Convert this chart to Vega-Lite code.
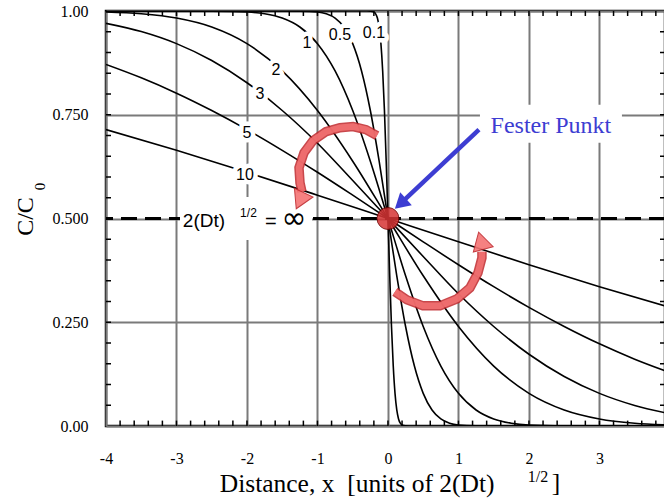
{
  "$schema": "https://vega.github.io/schema/vega-lite/v6.json",
  "description": "Error-function concentration profiles C/C0 = 0.5 erfc(x / 2(Dt)^1/2) for several diffusion lengths, all crossing the fixed point at x = 0, C/C0 = 0.5.",
  "width": 559,
  "height": 415,
  "autosize": {"type": "none"},
  "padding": {"left": 106, "top": 11, "right": 0, "bottom": 78},
  "background": "white",
  "config": {
    "view": {"stroke": "black", "strokeWidth": 2.5},
    "font": "Liberation Serif"
  },
  "datasets": {
    "curves": [
      {"s": "10", "x": -4, "c": 0.7142}, {"s": "10", "x": -3, "c": 0.6643}, {"s": "10", "x": -2, "c": 0.6114},
      {"s": "10", "x": -1, "c": 0.5562}, {"s": "10", "x": 0, "c": 0.5}, {"s": "10", "x": 1, "c": 0.4438},
      {"s": "10", "x": 2, "c": 0.3886}, {"s": "10", "x": 3, "c": 0.3357}, {"s": "10", "x": 3.93, "c": 0.2892},

      {"s": "5", "x": -4, "c": 0.8711}, {"s": "5", "x": -3.5, "c": 0.8389}, {"s": "5", "x": -3, "c": 0.802},
      {"s": "5", "x": -2.5, "c": 0.7602}, {"s": "5", "x": -2, "c": 0.7142}, {"s": "5", "x": -1.5, "c": 0.6643},
      {"s": "5", "x": -1, "c": 0.6114}, {"s": "5", "x": -0.5, "c": 0.5562}, {"s": "5", "x": 0, "c": 0.5},
      {"s": "5", "x": 0.5, "c": 0.4438}, {"s": "5", "x": 1, "c": 0.3886}, {"s": "5", "x": 1.5, "c": 0.3357},
      {"s": "5", "x": 2, "c": 0.2858}, {"s": "5", "x": 2.5, "c": 0.2398}, {"s": "5", "x": 3, "c": 0.198},
      {"s": "5", "x": 3.5, "c": 0.1611}, {"s": "5", "x": 3.93, "c": 0.1332},

      {"s": "3", "x": -4, "c": 0.9703}, {"s": "3", "x": -3.5, "c": 0.9505}, {"s": "3", "x": -3, "c": 0.9214},
      {"s": "3", "x": -2.5, "c": 0.8807}, {"s": "3", "x": -2, "c": 0.8271}, {"s": "3", "x": -1.5, "c": 0.7602},
      {"s": "3", "x": -1, "c": 0.6814}, {"s": "3", "x": -0.5, "c": 0.5915}, {"s": "3", "x": 0, "c": 0.5},
      {"s": "3", "x": 0.5, "c": 0.4085}, {"s": "3", "x": 1, "c": 0.3186}, {"s": "3", "x": 1.5, "c": 0.2398},
      {"s": "3", "x": 2, "c": 0.1729}, {"s": "3", "x": 2.5, "c": 0.1193}, {"s": "3", "x": 3, "c": 0.0786},
      {"s": "3", "x": 3.5, "c": 0.0495}, {"s": "3", "x": 3.93, "c": 0.032},

      {"s": "2", "x": -4, "c": 0.9977}, {"s": "2", "x": -3.5, "c": 0.9933}, {"s": "2", "x": -3, "c": 0.983},
      {"s": "2", "x": -2.5, "c": 0.9614}, {"s": "2", "x": -2, "c": 0.9213}, {"s": "2", "x": -1.5, "c": 0.8556},
      {"s": "2", "x": -1, "c": 0.7602}, {"s": "2", "x": -0.5, "c": 0.6381}, {"s": "2", "x": 0, "c": 0.5},
      {"s": "2", "x": 0.5, "c": 0.3619}, {"s": "2", "x": 1, "c": 0.2398}, {"s": "2", "x": 1.5, "c": 0.1444},
      {"s": "2", "x": 2, "c": 0.0787}, {"s": "2", "x": 2.5, "c": 0.0386}, {"s": "2", "x": 3, "c": 0.017},
      {"s": "2", "x": 3.5, "c": 0.0067}, {"s": "2", "x": 3.93, "c": 0.0027},

      {"s": "1", "x": -4, "c": 1}, {"s": "1", "x": -3, "c": 1}, {"s": "1", "x": -2.5, "c": 0.9998},
      {"s": "1", "x": -2, "c": 0.9977}, {"s": "1", "x": -1.75, "c": 0.9933}, {"s": "1", "x": -1.5, "c": 0.983},
      {"s": "1", "x": -1.25, "c": 0.9614}, {"s": "1", "x": -1, "c": 0.9213}, {"s": "1", "x": -0.75, "c": 0.8556},
      {"s": "1", "x": -0.5, "c": 0.7602}, {"s": "1", "x": -0.25, "c": 0.6381}, {"s": "1", "x": 0, "c": 0.5},
      {"s": "1", "x": 0.25, "c": 0.3619}, {"s": "1", "x": 0.5, "c": 0.2398}, {"s": "1", "x": 0.75, "c": 0.1444},
      {"s": "1", "x": 1, "c": 0.0787}, {"s": "1", "x": 1.25, "c": 0.0386}, {"s": "1", "x": 1.5, "c": 0.017},
      {"s": "1", "x": 1.75, "c": 0.0067}, {"s": "1", "x": 2, "c": 0.0023}, {"s": "1", "x": 2.5, "c": 0.0002},
      {"s": "1", "x": 3, "c": 0}, {"s": "1", "x": 3.93, "c": 0},

      {"s": "0.5", "x": -4, "c": 1}, {"s": "0.5", "x": -1.5, "c": 1}, {"s": "0.5", "x": -1.25, "c": 0.9998},
      {"s": "0.5", "x": -1, "c": 0.9977}, {"s": "0.5", "x": -0.875, "c": 0.9933}, {"s": "0.5", "x": -0.75, "c": 0.983},
      {"s": "0.5", "x": -0.625, "c": 0.9614}, {"s": "0.5", "x": -0.5, "c": 0.9213}, {"s": "0.5", "x": -0.375, "c": 0.8556},
      {"s": "0.5", "x": -0.25, "c": 0.7602}, {"s": "0.5", "x": -0.125, "c": 0.6381}, {"s": "0.5", "x": 0, "c": 0.5},
      {"s": "0.5", "x": 0.125, "c": 0.3619}, {"s": "0.5", "x": 0.25, "c": 0.2398}, {"s": "0.5", "x": 0.375, "c": 0.1444},
      {"s": "0.5", "x": 0.5, "c": 0.0787}, {"s": "0.5", "x": 0.625, "c": 0.0386}, {"s": "0.5", "x": 0.75, "c": 0.017},
      {"s": "0.5", "x": 0.875, "c": 0.0067}, {"s": "0.5", "x": 1, "c": 0.0023}, {"s": "0.5", "x": 1.25, "c": 0.0002},
      {"s": "0.5", "x": 1.5, "c": 0}, {"s": "0.5", "x": 3.93, "c": 0},

      {"s": "0.1", "x": -4, "c": 1}, {"s": "0.1", "x": -0.3, "c": 1}, {"s": "0.1", "x": -0.25, "c": 0.9998},
      {"s": "0.1", "x": -0.2, "c": 0.9977}, {"s": "0.1", "x": -0.175, "c": 0.9933}, {"s": "0.1", "x": -0.15, "c": 0.983},
      {"s": "0.1", "x": -0.125, "c": 0.9614}, {"s": "0.1", "x": -0.1, "c": 0.9213}, {"s": "0.1", "x": -0.075, "c": 0.8556},
      {"s": "0.1", "x": -0.05, "c": 0.7602}, {"s": "0.1", "x": -0.025, "c": 0.6381}, {"s": "0.1", "x": 0, "c": 0.5},
      {"s": "0.1", "x": 0.025, "c": 0.3619}, {"s": "0.1", "x": 0.05, "c": 0.2398}, {"s": "0.1", "x": 0.075, "c": 0.1444},
      {"s": "0.1", "x": 0.1, "c": 0.0787}, {"s": "0.1", "x": 0.125, "c": 0.0386}, {"s": "0.1", "x": 0.15, "c": 0.017},
      {"s": "0.1", "x": 0.175, "c": 0.0067}, {"s": "0.1", "x": 0.2, "c": 0.0023}, {"s": "0.1", "x": 0.25, "c": 0.0002},
      {"s": "0.1", "x": 0.3, "c": 0}, {"s": "0.1", "x": 3.93, "c": 0}
    ],
    "xMinor": [
      {"v": -3.8}, {"v": -3.6}, {"v": -3.4}, {"v": -3.2}, {"v": -3}, {"v": -2.8}, {"v": -2.6}, {"v": -2.4},
      {"v": -2.2}, {"v": -2}, {"v": -1.8}, {"v": -1.6}, {"v": -1.4}, {"v": -1.2}, {"v": -1}, {"v": -0.8},
      {"v": -0.6}, {"v": -0.4}, {"v": -0.2}, {"v": 0}, {"v": 0.2}, {"v": 0.4}, {"v": 0.6}, {"v": 0.8},
      {"v": 1}, {"v": 1.2}, {"v": 1.4}, {"v": 1.6}, {"v": 1.8}, {"v": 2}, {"v": 2.2}, {"v": 2.4},
      {"v": 2.6}, {"v": 2.8}, {"v": 3}, {"v": 3.2}, {"v": 3.4}, {"v": 3.6}, {"v": 3.8}
    ],
    "yMinor": [
      {"v": 0.05}, {"v": 0.1}, {"v": 0.15}, {"v": 0.2}, {"v": 0.25}, {"v": 0.3}, {"v": 0.35}, {"v": 0.4},
      {"v": 0.45}, {"v": 0.5}, {"v": 0.55}, {"v": 0.6}, {"v": 0.65}, {"v": 0.7}, {"v": 0.75}, {"v": 0.8},
      {"v": 0.85}, {"v": 0.9}, {"v": 0.95}
    ],
    "curveLabels": [
      {"t": "1", "x": -1.149, "y": 0.924},
      {"t": "0.5", "x": -0.681, "y": 0.943},
      {"t": "0.1", "x": -0.199, "y": 0.948},
      {"t": "2", "x": -1.589, "y": 0.859},
      {"t": "3", "x": -1.816, "y": 0.799},
      {"t": "5", "x": -2.0, "y": 0.707},
      {"t": "10", "x": -2.028, "y": 0.606}
    ],
    "arcs": [
      {"a": "upper", "i": 0, "x": -0.156, "y": 0.6996},
      {"a": "upper", "i": 1, "x": -0.312, "y": 0.7141},
      {"a": "upper", "i": 2, "x": -0.496, "y": 0.7214},
      {"a": "upper", "i": 3, "x": -0.681, "y": 0.7189},
      {"a": "upper", "i": 4, "x": -0.879, "y": 0.7093},
      {"a": "upper", "i": 5, "x": -1.064, "y": 0.6876},
      {"a": "upper", "i": 6, "x": -1.191, "y": 0.6586},
      {"a": "upper", "i": 7, "x": -1.262, "y": 0.6224},
      {"a": "upper", "i": 8, "x": -1.248, "y": 0.5862},
      {"a": "upper", "i": 9, "x": -1.22, "y": 0.5645},
      {"a": "lower", "i": 0, "x": 0.099, "y": 0.3233},
      {"a": "lower", "i": 1, "x": 0.27, "y": 0.304},
      {"a": "lower", "i": 2, "x": 0.496, "y": 0.2895},
      {"a": "lower", "i": 3, "x": 0.738, "y": 0.2895},
      {"a": "lower", "i": 4, "x": 0.979, "y": 0.3064},
      {"a": "lower", "i": 5, "x": 1.163, "y": 0.3329},
      {"a": "lower", "i": 6, "x": 1.277, "y": 0.3691},
      {"a": "lower", "i": 7, "x": 1.333, "y": 0.4053},
      {"a": "lower", "i": 8, "x": 1.333, "y": 0.42}
    ],
    "pointer": [
      {"x": 1.291, "y": 0.714},
      {"x": 0.177, "y": 0.5356}
    ]
  },
  "layer": [
    {
      "data": {"name": "curves"},
      "mark": {"type": "line", "interpolate": "monotone", "color": "black", "strokeWidth": 1.6, "clip": true},
      "encoding": {
        "x": {
          "field": "x", "type": "quantitative",
          "scale": {"domain": [-4, 3.93], "nice": false, "zero": false},
          "axis": {
            "orient": "bottom",
            "values": [-4, -3, -2, -1, 0, 1, 2, 3],
            "labelExpr": "'' + datum.value",
            "labelFont": "Liberation Serif", "labelFontSize": 16, "labelColor": "black",
            "labelPadding": 24, "labelFlush": false, "labelOverlap": false,
            "domain": false, "ticks": false, "tickSize": 0,
            "grid": true, "gridColor": "#7a7a7a", "gridWidth": 2,
            "title": "Distance, x\u00a0\u00a0[units of 2(Dt)",
            "titleFont": "Liberation Serif", "titleFontSize": 25.5, "titleFontWeight": "normal", "titleColor": "black",
            "titleAlign": "right", "titleBaseline": "alphabetic", "titleX": 388, "titleY": 65
          }
        },
        "y": {
          "field": "c", "type": "quantitative",
          "scale": {"domain": [0, 1], "nice": false, "zero": false},
          "axis": {
            "orient": "left",
            "values": [0, 0.25, 0.5, 0.75, 1],
            "labelExpr": "datum.value == 1 ? '1.00' : datum.value == 0 ? '0.00' : format(datum.value, '.3f')",
            "labelFont": "Liberation Serif", "labelFontSize": 16, "labelColor": "black",
            "labelPadding": 18, "labelFlush": false, "labelOverlap": false, "labelBaseline": "middle",
            "domain": false, "ticks": false, "tickSize": 0,
            "grid": true, "gridColor": "#7a7a7a", "gridWidth": 2,
            "title": "C/C",
            "titleFont": "Liberation Serif", "titleFontSize": 24, "titleFontWeight": "normal", "titleColor": "black",
            "titleAngle": 270, "titleAlign": "center", "titleBaseline": "middle", "titleX": -81, "titleY": 205
          }
        },
        "detail": {"field": "s"}
      }
    },
    {
      "data": {"name": "xMinor"},
      "mark": {"type": "rule", "color": "black", "strokeWidth": 1.5},
      "encoding": {
        "x": {"field": "v", "type": "quantitative", "scale": {"domain": [-4, 3.93], "nice": false}},
        "y": {"datum": 0, "type": "quantitative", "scale": {"domain": [0, 1], "nice": false}},
        "y2": {"datum": 0.013}
      }
    },
    {
      "data": {"name": "xMinor"},
      "mark": {"type": "rule", "color": "black", "strokeWidth": 1.5},
      "encoding": {
        "x": {"field": "v", "type": "quantitative", "scale": {"domain": [-4, 3.93], "nice": false}},
        "y": {"datum": 1, "type": "quantitative", "scale": {"domain": [0, 1], "nice": false}},
        "y2": {"datum": 0.988}
      }
    },
    {
      "data": {"name": "yMinor"},
      "mark": {"type": "rule", "color": "black", "strokeWidth": 1.5},
      "encoding": {
        "y": {"field": "v", "type": "quantitative", "scale": {"domain": [0, 1], "nice": false}},
        "x": {"datum": -4, "type": "quantitative", "scale": {"domain": [-4, 3.93], "nice": false}},
        "x2": {"datum": -3.929}
      }
    },
    {
      "data": {"name": "yMinor"},
      "mark": {"type": "rule", "color": "black", "strokeWidth": 1.5},
      "encoding": {
        "y": {"field": "v", "type": "quantitative", "scale": {"domain": [0, 1], "nice": false}},
        "x": {"datum": 3.93, "type": "quantitative", "scale": {"domain": [-4, 3.93], "nice": false}},
        "x2": {"datum": 3.859}
      }
    },
    {
      "data": {"values": [{"level": 0.5}]},
      "mark": {"type": "rule", "color": "black", "strokeWidth": 3, "strokeDash": [16, 8]},
      "encoding": {
        "y": {"field": "level", "type": "quantitative", "scale": {"domain": [0, 1], "nice": false}}
      }
    },
    {
      "data": {"values": [{"x": -2.014, "y": 0.5}]},
      "mark": {"type": "rect", "fill": "white", "width": 132, "height": 43},
      "encoding": {
        "x": {"field": "x", "type": "quantitative", "scale": {"domain": [-4, 3.93], "nice": false}},
        "y": {"field": "y", "type": "quantitative", "scale": {"domain": [0, 1], "nice": false}}
      }
    },
    {
      "data": {"values": [{"x": 2.312, "y": 0.7286}]},
      "mark": {"type": "rect", "fill": "white", "width": 142, "height": 38},
      "encoding": {
        "x": {"field": "x", "type": "quantitative", "scale": {"domain": [-4, 3.93], "nice": false}},
        "y": {"field": "y", "type": "quantitative", "scale": {"domain": [0, 1], "nice": false}}
      }
    },
    {
      "data": {"name": "curveLabels"},
      "mark": {"type": "text", "font": "Liberation Sans", "fontSize": 16, "fill": "white", "stroke": "white", "strokeWidth": 9, "strokeJoin": "round", "align": "center", "baseline": "middle"},
      "encoding": {
        "x": {"field": "x", "type": "quantitative", "scale": {"domain": [-4, 3.93], "nice": false}},
        "y": {"field": "y", "type": "quantitative", "scale": {"domain": [0, 1], "nice": false}},
        "text": {"field": "t"}
      }
    },
    {
      "data": {"name": "curveLabels"},
      "mark": {"type": "text", "font": "Liberation Sans", "fontSize": 16, "color": "black", "align": "center", "baseline": "middle"},
      "encoding": {
        "x": {"field": "x", "type": "quantitative", "scale": {"domain": [-4, 3.93], "nice": false}},
        "y": {"field": "y", "type": "quantitative", "scale": {"domain": [0, 1], "nice": false}},
        "text": {"field": "t"}
      }
    },
    {
      "data": {"values": [{"t": "2(Dt)", "x": -2.61, "y": 0.5}]},
      "mark": {"type": "text", "font": "Liberation Sans", "fontSize": 19, "color": "black", "align": "center", "baseline": "middle", "dy": 2},
      "encoding": {
        "x": {"field": "x", "type": "quantitative", "scale": {"domain": [-4, 3.93], "nice": false}},
        "y": {"field": "y", "type": "quantitative", "scale": {"domain": [0, 1], "nice": false}},
        "text": {"field": "t"}
      }
    },
    {
      "data": {"values": [{"t": "1/2", "x": -1.979, "y": 0.5}]},
      "mark": {"type": "text", "font": "Liberation Sans", "fontSize": 12, "color": "black", "align": "center", "baseline": "middle", "dy": -6},
      "encoding": {
        "x": {"field": "x", "type": "quantitative", "scale": {"domain": [-4, 3.93], "nice": false}},
        "y": {"field": "y", "type": "quantitative", "scale": {"domain": [0, 1], "nice": false}},
        "text": {"field": "t"}
      }
    },
    {
      "data": {"values": [{"t": "=", "x": -1.66, "y": 0.5}]},
      "mark": {"type": "text", "font": "Liberation Sans", "fontSize": 20, "color": "black", "align": "center", "baseline": "middle", "dy": 3},
      "encoding": {
        "x": {"field": "x", "type": "quantitative", "scale": {"domain": [-4, 3.93], "nice": false}},
        "y": {"field": "y", "type": "quantitative", "scale": {"domain": [0, 1], "nice": false}},
        "text": {"field": "t"}
      }
    },
    {
      "data": {"values": [{"t": "∞", "x": -1.333, "y": 0.5}]},
      "mark": {"type": "text", "font": "DejaVu Sans", "fontSize": 30, "color": "black", "align": "center", "baseline": "middle", "dy": 0},
      "encoding": {
        "x": {"field": "x", "type": "quantitative", "scale": {"domain": [-4, 3.93], "nice": false}},
        "y": {"field": "y", "type": "quantitative", "scale": {"domain": [0, 1], "nice": false}},
        "text": {"field": "t"}
      }
    },
    {
      "data": {"name": "arcs"},
      "mark": {"type": "line", "color": "#c0282d", "strokeWidth": 9.5, "opacity": 0.85, "strokeCap": "butt"},
      "encoding": {
        "x": {"field": "x", "type": "quantitative", "scale": {"domain": [-4, 3.93], "nice": false}},
        "y": {"field": "y", "type": "quantitative", "scale": {"domain": [0, 1], "nice": false}},
        "detail": {"field": "a"},
        "order": {"field": "i"}
      }
    },
    {
      "data": {"name": "arcs"},
      "mark": {"type": "line", "color": "#f47474", "strokeWidth": 6.5, "opacity": 0.85, "strokeCap": "butt"},
      "encoding": {
        "x": {"field": "x", "type": "quantitative", "scale": {"domain": [-4, 3.93], "nice": false}},
        "y": {"field": "y", "type": "quantitative", "scale": {"domain": [0, 1], "nice": false}},
        "detail": {"field": "a"},
        "order": {"field": "i"}
      }
    },
    {
      "data": {"values": [{"x": -1.248, "y": 0.5428}]},
      "mark": {"type": "point", "shape": "triangle-up", "filled": true, "fill": "#f47474", "stroke": "#c0282d", "strokeWidth": 1, "opacity": 0.9, "size": 420, "angle": 205},
      "encoding": {
        "x": {"field": "x", "type": "quantitative", "scale": {"domain": [-4, 3.93], "nice": false}},
        "y": {"field": "y", "type": "quantitative", "scale": {"domain": [0, 1], "nice": false}}
      }
    },
    {
      "data": {"values": [{"x": 1.319, "y": 0.4463}]},
      "mark": {"type": "point", "shape": "triangle-up", "filled": true, "fill": "#f47474", "stroke": "#c0282d", "strokeWidth": 1, "opacity": 0.9, "size": 420, "angle": 345},
      "encoding": {
        "x": {"field": "x", "type": "quantitative", "scale": {"domain": [-4, 3.93], "nice": false}},
        "y": {"field": "y", "type": "quantitative", "scale": {"domain": [0, 1], "nice": false}}
      }
    },
    {
      "data": {"values": [{"x": 0, "y": 0.5}]},
      "mark": {"type": "point", "shape": "circle", "filled": true, "fill": "#d63434", "stroke": "#700000", "strokeWidth": 1, "opacity": 0.85, "size": 480},
      "encoding": {
        "x": {"field": "x", "type": "quantitative", "scale": {"domain": [-4, 3.93], "nice": false}},
        "y": {"field": "y", "type": "quantitative", "scale": {"domain": [0, 1], "nice": false}}
      }
    },
    {
      "data": {"name": "pointer"},
      "mark": {"type": "line", "color": "#3d3dd2", "strokeWidth": 4.5},
      "encoding": {
        "x": {"field": "x", "type": "quantitative", "scale": {"domain": [-4, 3.93], "nice": false}},
        "y": {"field": "y", "type": "quantitative", "scale": {"domain": [0, 1], "nice": false}}
      }
    },
    {
      "data": {"values": [{"x": 0.177, "y": 0.5356}]},
      "mark": {"type": "point", "shape": "triangle-up", "filled": true, "fill": "#3d3dd2", "opacity": 1, "size": 300, "angle": 228},
      "encoding": {
        "x": {"field": "x", "type": "quantitative", "scale": {"domain": [-4, 3.93], "nice": false}},
        "y": {"field": "y", "type": "quantitative", "scale": {"domain": [0, 1], "nice": false}}
      }
    },
    {
      "data": {"values": [{"t": "Fester Punkt", "x": 2.312, "y": 0.7286}]},
      "mark": {"type": "text", "font": "Liberation Serif", "fontSize": 24, "color": "#3d3dd2", "align": "center", "baseline": "middle", "dy": 2},
      "encoding": {
        "x": {"field": "x", "type": "quantitative", "scale": {"domain": [-4, 3.93], "nice": false}},
        "y": {"field": "y", "type": "quantitative", "scale": {"domain": [0, 1], "nice": false}},
        "text": {"field": "t"}
      }
    },
    {
      "data": {"values": [{"t": "0", "x": -4, "y": 0.5}]},
      "mark": {"type": "text", "font": "Liberation Serif", "fontSize": 15, "color": "black", "align": "center", "baseline": "middle", "angle": 270, "dx": 32, "dy": -66},
      "encoding": {
        "x": {"field": "x", "type": "quantitative", "scale": {"domain": [-4, 3.93], "nice": false}},
        "y": {"field": "y", "type": "quantitative", "scale": {"domain": [0, 1], "nice": false}},
        "text": {"field": "t"}
      }
    },
    {
      "data": {"values": [{"t": "1/2", "x": 2.128, "y": 0}]},
      "mark": {"type": "text", "font": "Liberation Serif", "fontSize": 16, "color": "black", "align": "center", "baseline": "middle", "dy": 51},
      "encoding": {
        "x": {"field": "x", "type": "quantitative", "scale": {"domain": [-4, 3.93], "nice": false}},
        "y": {"field": "y", "type": "quantitative", "scale": {"domain": [0, 1], "nice": false}},
        "text": {"field": "t"}
      }
    },
    {
      "data": {"values": [{"t": "]", "x": 2.383, "y": 0}]},
      "mark": {"type": "text", "font": "Liberation Serif", "fontSize": 25.5, "color": "black", "align": "center", "baseline": "alphabetic", "dy": 65},
      "encoding": {
        "x": {"field": "x", "type": "quantitative", "scale": {"domain": [-4, 3.93], "nice": false}},
        "y": {"field": "y", "type": "quantitative", "scale": {"domain": [0, 1], "nice": false}},
        "text": {"field": "t"}
      }
    }
  ]
}
